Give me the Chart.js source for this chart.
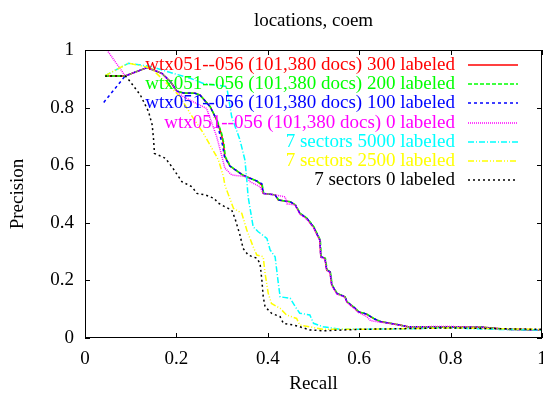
<!DOCTYPE html>
<html>
<head>
<meta charset="utf-8">
<script src="https://cdn.jsdelivr.net/npm/chart.js@4.4.1/dist/chart.umd.min.js"></script>
<style>
  html, body { margin: 0; padding: 0; background: #fff; }
</style>
</head>
<body>
<canvas id="prChart" width="543" height="394"></canvas>
<script>
// precision / recall curves, locations, coem

const chartTitle = "locations, coem";
const xTickLabels = ["0", "0.2", "0.4", "0.6", "0.8", "1"];
const yTickLabels = ["0", "0.2", "0.4", "0.6", "0.8", "1"];

const seriesLabels = [
  "wtx051--056 (101,380 docs) 300 labeled",
  "wtx051--056 (101,380 docs) 200 labeled",
  "wtx051--056 (101,380 docs) 100 labeled",
  "wtx051--056 (101,380 docs) 0 labeled",
  "7 sectors 5000 labeled",
  "7 sectors 2500 labeled",
  "7 sectors 0 labeled"
];

// wtx 300 labeled
const recall300 = [0.044, 0.088, 0.136, 0.168, 0.187, 0.201, 0.215, 0.241, 0.252, 0.274, 0.288, 0.298, 0.303, 0.306, 0.317, 0.346, 0.376, 0.387, 0.390, 0.416, 0.423, 0.449, 0.460, 0.470, 0.485, 0.500, 0.514, 0.516, 0.525, 0.529, 0.536, 0.540, 0.551, 0.569, 0.573, 0.591, 0.598, 0.616, 0.631, 0.646, 0.667, 0.689, 0.707, 0.800, 0.872, 0.923, 1.000];
const precision300 = [0.910, 0.910, 0.939, 0.919, 0.890, 0.857, 0.851, 0.850, 0.843, 0.803, 0.757, 0.710, 0.675, 0.630, 0.597, 0.565, 0.545, 0.531, 0.502, 0.497, 0.479, 0.473, 0.462, 0.433, 0.416, 0.386, 0.340, 0.282, 0.277, 0.236, 0.230, 0.184, 0.155, 0.143, 0.126, 0.103, 0.091, 0.083, 0.068, 0.057, 0.051, 0.045, 0.039, 0.038, 0.037, 0.030, 0.028];

// wtx 200 labeled
const recall200 = [0.044, 0.088, 0.136, 0.168, 0.187, 0.201, 0.215, 0.241, 0.252, 0.274, 0.289, 0.299, 0.304, 0.307, 0.318, 0.346, 0.376, 0.388, 0.391, 0.416, 0.424, 0.449, 0.461, 0.471, 0.486, 0.501, 0.515, 0.517, 0.526, 0.530, 0.537, 0.541, 0.552, 0.569, 0.574, 0.592, 0.599, 0.617, 0.632, 0.647, 0.667, 0.689, 0.707, 0.800, 0.872, 0.923, 1.000];
const precision200 = [0.910, 0.910, 0.939, 0.919, 0.890, 0.857, 0.851, 0.850, 0.843, 0.803, 0.757, 0.710, 0.675, 0.630, 0.597, 0.565, 0.545, 0.531, 0.502, 0.497, 0.479, 0.473, 0.462, 0.433, 0.416, 0.386, 0.340, 0.282, 0.277, 0.236, 0.230, 0.184, 0.155, 0.143, 0.126, 0.103, 0.091, 0.083, 0.068, 0.057, 0.051, 0.045, 0.039, 0.038, 0.037, 0.030, 0.028];

// wtx 100 labeled
const recall100 = [0.041, 0.088, 0.136, 0.168, 0.187, 0.201, 0.215, 0.241, 0.252, 0.274, 0.288, 0.296, 0.301, 0.305, 0.317, 0.346, 0.376, 0.387, 0.390, 0.416, 0.423, 0.449, 0.460, 0.470, 0.485, 0.500, 0.514, 0.516, 0.525, 0.529, 0.536, 0.540, 0.551, 0.569, 0.573, 0.591, 0.598, 0.616, 0.631, 0.646, 0.667, 0.689, 0.707, 0.800, 0.872, 0.923, 1.000];
const precision100 = [0.818, 0.910, 0.939, 0.919, 0.890, 0.857, 0.851, 0.850, 0.843, 0.803, 0.757, 0.700, 0.670, 0.630, 0.597, 0.565, 0.545, 0.536, 0.502, 0.497, 0.479, 0.473, 0.462, 0.433, 0.416, 0.386, 0.340, 0.282, 0.277, 0.236, 0.230, 0.184, 0.155, 0.143, 0.126, 0.103, 0.091, 0.083, 0.068, 0.057, 0.051, 0.045, 0.039, 0.038, 0.037, 0.030, 0.028];

// wtx 0 labeled
const recall0 = [0.048, 0.088, 0.136, 0.168, 0.187, 0.201, 0.215, 0.237, 0.266, 0.288, 0.298, 0.306, 0.321, 0.354, 0.361, 0.383, 0.390, 0.416, 0.438, 0.442, 0.460, 0.470, 0.485, 0.500, 0.514, 0.516, 0.525, 0.529, 0.536, 0.540, 0.551, 0.569, 0.573, 0.591, 0.598, 0.616, 0.625, 0.646, 0.667, 0.689, 0.707, 0.800, 0.872, 0.923, 1.000];
const precision0 = [1.000, 0.910, 0.939, 0.919, 0.890, 0.855, 0.838, 0.820, 0.797, 0.700, 0.640, 0.590, 0.566, 0.560, 0.543, 0.525, 0.502, 0.497, 0.490, 0.466, 0.462, 0.430, 0.413, 0.383, 0.338, 0.280, 0.275, 0.234, 0.228, 0.182, 0.153, 0.141, 0.124, 0.100, 0.089, 0.075, 0.060, 0.055, 0.050, 0.044, 0.039, 0.040, 0.036, 0.030, 0.028];

// 7 sectors 5000 labeled
const recall5000 = [0.044, 0.095, 0.146, 0.193, 0.230, 0.259, 0.288, 0.310, 0.321, 0.339, 0.350, 0.354, 0.357, 0.368, 0.379, 0.398, 0.405, 0.416, 0.423, 0.427, 0.449, 0.460, 0.470, 0.492, 0.500, 0.521, 0.543, 0.560, 0.700, 0.800, 0.900, 1.000];
const precision5000 = [0.911, 0.954, 0.942, 0.919, 0.902, 0.884, 0.878, 0.873, 0.768, 0.688, 0.618, 0.549, 0.490, 0.386, 0.369, 0.346, 0.306, 0.282, 0.190, 0.143, 0.138, 0.109, 0.086, 0.080, 0.051, 0.039, 0.034, 0.030, 0.032, 0.035, 0.030, 0.028];

// 7 sectors 2500 labeled
const recall2500 = [0.044, 0.095, 0.132, 0.146, 0.179, 0.208, 0.230, 0.259, 0.288, 0.292, 0.303, 0.306, 0.325, 0.343, 0.354, 0.368, 0.376, 0.390, 0.394, 0.401, 0.408, 0.427, 0.441, 0.463, 0.470, 0.492, 0.520, 0.600, 0.800, 1.000];
const precision2500 = [0.911, 0.954, 0.942, 0.935, 0.884, 0.838, 0.780, 0.711, 0.630, 0.618, 0.560, 0.531, 0.450, 0.433, 0.375, 0.317, 0.288, 0.282, 0.225, 0.155, 0.120, 0.103, 0.080, 0.068, 0.045, 0.039, 0.030, 0.030, 0.035, 0.030];

// 7 sectors 0 labeled
const recallSec0 = [0.044, 0.088, 0.096, 0.121, 0.139, 0.147, 0.150, 0.152, 0.176, 0.190, 0.212, 0.234, 0.245, 0.263, 0.282, 0.292, 0.306, 0.321, 0.328, 0.339, 0.346, 0.357, 0.376, 0.383, 0.387, 0.390, 0.394, 0.408, 0.427, 0.434, 0.456, 0.470, 0.492, 0.521, 0.600, 0.800, 1.000];
const precisionSec0 = [0.910, 0.910, 0.896, 0.844, 0.786, 0.740, 0.690, 0.641, 0.624, 0.595, 0.543, 0.525, 0.502, 0.497, 0.485, 0.468, 0.456, 0.444, 0.416, 0.358, 0.311, 0.288, 0.277, 0.259, 0.201, 0.143, 0.109, 0.086, 0.074, 0.051, 0.045, 0.039, 0.028, 0.025, 0.030, 0.035, 0.030];

const recallSets = [recall300, recall200, recall100, recall0, recall5000, recall2500, recallSec0];
const precisionSets = [precision300, precision200, precision100, precision0, precision5000, precision2500, precisionSec0];

// gnuplot-ish line types
const lineColors = ["#ff0000", "#00ff00", "#0000ff", "#ff00ff", "#00ffff", "#ffff00", "#000000"];
const lineDashes = [[], [4, 2], [3, 3], [1, 1], [6, 2, 1, 2], [6, 2, 1, 2, 1, 2], [2, 3]];

const serif = "'Liberation Serif', 'Times New Roman', serif";
Chart.defaults.font.family = serif;
Chart.defaults.font.size = 19;
Chart.defaults.color = "#000";

function toPoints(xs, ys) {
  return xs.map((x, i) => ({ x: x, y: ys[i] }));
}

const datasets = seriesLabels.map((label, i) => ({
  label: label,
  data: toPoints(recallSets[i], precisionSets[i]),
  borderColor: lineColors[i],
  borderDash: lineDashes[i],
  borderWidth: 1.5,
  pointRadius: 0,
  tension: 0,
  fill: false,
  order: seriesLabels.length - i
}));

// frame with inward ticks on all four sides
const framePlugin = {
  id: "frame",
  afterDatasetsDraw(chart) {
    const { ctx, chartArea: a, scales } = chart;
    ctx.save();
    ctx.strokeStyle = "#000";
    ctx.lineWidth = 1;
    ctx.setLineDash([]);
    ctx.strokeRect(a.left + 0.5, a.top + 0.5, a.right - a.left - 1, a.bottom - a.top - 1);
    ctx.beginPath();
    scales.x.ticks.forEach((t) => {
      const px = Math.round(scales.x.getPixelForValue(t.value)) + 0.5;
      ctx.moveTo(px, a.bottom); ctx.lineTo(px, a.bottom - 5);
      ctx.moveTo(px, a.top); ctx.lineTo(px, a.top + 5);
    });
    scales.y.ticks.forEach((t) => {
      const py = Math.round(scales.y.getPixelForValue(t.value)) + 0.5;
      ctx.moveTo(a.left, py); ctx.lineTo(a.left + 5, py);
      ctx.moveTo(a.right, py); ctx.lineTo(a.right - 5, py);
    });
    ctx.stroke();
    ctx.restore();
  }
};

// key in the top right corner: text right-aligned, sample line on the right
const keyPlugin = {
  id: "key",
  afterDraw(chart) {
    const { ctx, chartArea: a } = chart;
    const textRight = a.right - 87;
    ctx.save();
    ctx.font = "19px " + serif;
    ctx.textAlign = "right";
    ctx.textBaseline = "middle";
    chart.data.datasets.forEach((ds, i) => {
      const y = a.top + 15 + i * 19.2;
      ctx.fillStyle = ds.borderColor;
      ctx.fillText(ds.label, textRight, y);
      ctx.strokeStyle = ds.borderColor;
      ctx.lineWidth = 1.5;
      ctx.setLineDash(ds.borderDash);
      ctx.beginPath();
      ctx.moveTo(textRight + 13, Math.round(y));
      ctx.lineTo(textRight + 63, Math.round(y));
      ctx.stroke();
    });
    ctx.restore();
  }
};

const titlePlugin = {
  id: "topTitle",
  afterDraw(chart) {
    const { ctx, chartArea: a } = chart;
    ctx.save();
    ctx.font = "19px " + serif;
    ctx.fillStyle = "#000";
    ctx.textAlign = "center";
    ctx.textBaseline = "middle";
    ctx.fillText(chartTitle, (a.left + a.right) / 2, 21.5);
    ctx.restore();
  }
};

const canvas = document.getElementById("prChart");
new Chart(canvas, {
  type: "line",
  data: { datasets: datasets },
  options: {
    responsive: false,
    animation: false,
    layout: { padding: { top: 50, right: 1, bottom: 0, left: 0 } },
    plugins: {
      legend: { display: false },
      tooltip: { enabled: false }
    },
    scales: {
      x: {
        type: "linear",
        min: 0,
        max: 1,
        grid: { display: false, drawTicks: false },
        border: { display: false },
        ticks: {
          stepSize: 0.2,
          padding: 10,
          maxRotation: 0,
          autoSkip: false,
          callback: (v, i) => xTickLabels[i]
        },
        title: { display: true, text: "Recall", padding: { top: 0, bottom: -1 } },
        afterFit: (scale) => {
          scale.height = 56;
          scale.paddingLeft = 0;
          scale.paddingRight = 0;
        }
      },
      y: {
        type: "linear",
        min: 0,
        max: 1,
        grid: { display: false, drawTicks: false },
        border: { display: false },
        ticks: {
          stepSize: 0.2,
          padding: 11,
          autoSkip: false,
          callback: (v, i) => yTickLabels[i]
        },
        title: { display: true, text: "Precision", padding: { top: 7, bottom: 0 } },
        afterFit: (scale) => {
          scale.width = 85;
          scale.paddingTop = 0;
          scale.paddingBottom = 0;
        }
      }
    }
  },
  plugins: [framePlugin, keyPlugin, titlePlugin]
});
</script>
</body>
</html>
